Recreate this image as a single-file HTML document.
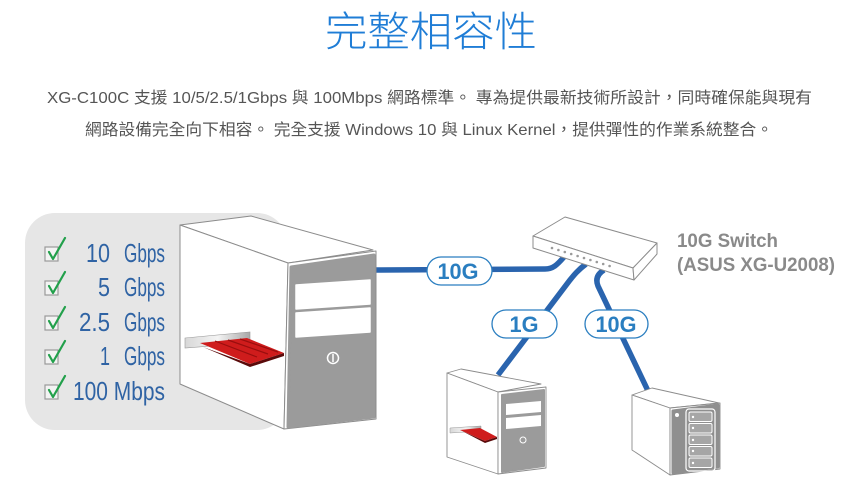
<!DOCTYPE html>
<html><head><meta charset="utf-8"><style>
html,body{margin:0;padding:0;background:#fff;}
svg{display:block;}
</style></head><body>
<svg width="852" height="497" viewBox="0 0 852 497" xmlns="http://www.w3.org/2000/svg">
<defs>
<linearGradient id="br" x1="0" y1="0" x2="1" y2="0">
<stop offset="0" stop-color="#d8d8d8"/><stop offset="0.5" stop-color="#f4f4f4"/><stop offset="1" stop-color="#a8a8a8"/>
</linearGradient>
</defs>
<rect width="852" height="497" fill="#fff"/>
<!-- Title -->
<text x="431" y="46" text-anchor="middle" textLength="212" lengthAdjust="spacingAndGlyphs" font-family="'Liberation Sans','Noto Sans CJK TC',sans-serif" font-size="41" font-weight="300" fill="#1f7dd6">完整相容性</text>
<!-- Paragraph -->
<g font-family="'Liberation Sans','Noto Sans CJK TC',sans-serif" font-size="16" fill="#555">
<text x="47" y="103" textLength="765" lengthAdjust="spacingAndGlyphs">XG-C100C 支援 10/5/2.5/1Gbps 與 100Mbps 網路標準。 專為提供最新技術所設計，同時確保能與現有</text>
<text x="85" y="135" textLength="688" lengthAdjust="spacingAndGlyphs">網路設備完全向下相容。 完全支援 Windows 10 與 Linux Kernel，提供彈性的作業系統整合。</text>
</g>
<!-- gray panel -->
<rect x="25" y="213" width="262" height="217" rx="30" fill="#e6e6e6"/>
<!-- checklist -->
<g font-family="'Liberation Sans Narrow','Liberation Sans',sans-serif" font-size="26" fill="#2f63a4">
<text x="110" y="262" text-anchor="end" textLength="24" lengthAdjust="spacingAndGlyphs">10</text>
<text x="124" y="262" textLength="41" lengthAdjust="spacingAndGlyphs">Gbps</text>
<text x="110" y="296" text-anchor="end" textLength="12" lengthAdjust="spacingAndGlyphs">5</text>
<text x="124" y="296" textLength="41" lengthAdjust="spacingAndGlyphs">Gbps</text>
<text x="110" y="331" text-anchor="end" textLength="31" lengthAdjust="spacingAndGlyphs">2.5</text>
<text x="124" y="331" textLength="41" lengthAdjust="spacingAndGlyphs">Gbps</text>
<text x="110" y="365" text-anchor="end" textLength="10" lengthAdjust="spacingAndGlyphs">1</text>
<text x="124" y="365" textLength="41" lengthAdjust="spacingAndGlyphs">Gbps</text>
<text x="73" y="400" textLength="92" lengthAdjust="spacingAndGlyphs">100 Mbps</text>
</g>
<g fill="#f3f3f3" stroke="#9a9a9a" stroke-width="1.2">
<rect x="45" y="247" width="13" height="14"/>
<rect x="45" y="281" width="13" height="14"/>
<rect x="45" y="316" width="13" height="14"/>
<rect x="45" y="350" width="13" height="14"/>
<rect x="45" y="385" width="13" height="14"/>
</g>
<g fill="none" stroke="#22a04b" stroke-width="2.2" stroke-linecap="round" stroke-linejoin="round">
<path d="M49,252 L53,259 L65,238"/>
<path d="M49,286 L53,293 L65,272"/>
<path d="M49,321 L53,328 L65,307"/>
<path d="M49,355 L53,362 L65,341"/>
<path d="M49,390 L53,397 L65,376"/>
</g>
<!-- cables -->
<g fill="none" stroke="#2a64ae" stroke-width="5.5">
<path d="M372,270 L545,269 C553,269 557,265 564,257"/>
<path d="M586,264 C578,270 574,275 570,280 L498,375"/>
<path d="M604,270 Q594,276 598,286 L649,393"/>
</g>
<!-- big tower -->
<g stroke="#8c8c8c" stroke-width="1" stroke-linejoin="round">
<path d="M180,225 L251,216 L373,250 L288,263 Z" fill="#fff"/>
<path d="M180,225 L288,263 L284,429 L180,384 Z" fill="#fff"/>
<path d="M288,263 L376,251 L376,419 L284,429 Z" fill="#fff"/>
</g>
<path d="M291,267 L374,255 L374,417 L288,427 Z" fill="#9b9b9b" stroke="#9b9b9b" stroke-width="3" stroke-linejoin="round"/>
<path d="M296,285 L370,280 L370,304 L296,309 Z" fill="#fff" stroke="#fff" stroke-width="1.5" stroke-linejoin="round"/>
<path d="M296,313 L370,308 L370,332 L296,337 Z" fill="#fff" stroke="#fff" stroke-width="1.5" stroke-linejoin="round"/>
<circle cx="333" cy="358" r="5.5" fill="none" stroke="#fff" stroke-width="1.5"/>
<line x1="333" y1="354" x2="333" y2="362" stroke="#fff" stroke-width="1.5"/>
<!-- big card -->
<path d="M185,338 L250,332 L250,343 L185,348 Z" fill="url(#br)" stroke="#999" stroke-width="0.6"/>
<path d="M200,343 L247,338 L284,353 L250,364 Z" fill="#cf1c1c"/>
<path d="M203,347 L250,364 L284,353 L284,356 L250,367 Z" fill="#5a0a0a"/>
<g stroke="#9a0e0e" stroke-width="1.2">
<line x1="215" y1="341" x2="257" y2="357"/>
<line x1="228" y1="340" x2="268" y2="354"/>
<line x1="240" y1="339" x2="278" y2="352"/>
</g>
<!-- small tower -->
<g stroke="#8c8c8c" stroke-width="0.9" stroke-linejoin="round">
<path d="M447,373 L461,369 L541,384 L498,392 Z" fill="#fff"/>
<path d="M447,373 L498,392 L498,474 L447,457 Z" fill="#fff"/>
<path d="M498,392 L546,387 L546,468 L498,474 Z" fill="#fff"/>
</g>
<path d="M502,395 L544,390 L544,466 L502,472 Z" fill="#9b9b9b" stroke="#9b9b9b" stroke-width="2" stroke-linejoin="round"/>
<path d="M506,404 L541,401 L541,412 L506,415 Z" fill="#fff"/>
<path d="M506,418 L541,415 L541,426 L506,429 Z" fill="#fff"/>
<circle cx="523" cy="440" r="3" fill="none" stroke="#fff" stroke-width="1"/>
<path d="M450,428 L481,426 L481,431 L450,433 Z" fill="url(#br)" stroke="#999" stroke-width="0.5"/>
<path d="M460,430 L480,428 L497,437 L485,441 Z" fill="#cf1c1c"/>
<path d="M462,431 L485,441 L497,437 L497,439 L485,443 Z" fill="#5a0a0a"/>
<!-- NAS -->
<g stroke="#8c8c8c" stroke-width="0.9" stroke-linejoin="round">
<path d="M632,395 L652,388 L719,403 L670,408 Z" fill="#fff"/>
<path d="M632,395 L670,408 L670,475 L632,450 Z" fill="#fff"/>
<path d="M670,408 L720,403 L720,469 L670,475 Z" fill="#fff"/>
</g>
<path d="M673,411 L718,405 L718,467 L673,473 Z" fill="#8f8f8f" stroke="#8f8f8f" stroke-width="3" stroke-linejoin="round"/>
<circle cx="677" cy="415" r="2" fill="#fff"/>
<rect x="686" y="409" width="29" height="62" rx="3" fill="none" stroke="#fff" stroke-width="1.2"/>
<g fill="#a6a6a6" stroke="#fff" stroke-width="1">
<rect x="689" y="412" width="23" height="9.5" rx="1.5"/>
<rect x="689" y="423.5" width="23" height="9.5" rx="1.5"/>
<rect x="689" y="435" width="23" height="9.5" rx="1.5"/>
<rect x="689" y="446.5" width="23" height="9.5" rx="1.5"/>
<rect x="689" y="458" width="23" height="9.5" rx="1.5"/>
</g>
<g fill="#fff">
<circle cx="693" cy="417" r="1.2"/><circle cx="693" cy="428" r="1.2"/><circle cx="693" cy="440" r="1.2"/><circle cx="693" cy="451" r="1.2"/><circle cx="693" cy="463" r="1.2"/>
</g>
<!-- switch -->
<g stroke="#8c8c8c" stroke-width="1" stroke-linejoin="round" fill="#fff">
<path d="M533,236 L565,217 L657,243 L633,268 Z"/>
<path d="M533,236 L633,268 L634,280 L533,248 Z"/>
<path d="M633,268 L657,243 L657,254 L634,280 Z"/>
</g>
<g fill="#9a9a9a">
<circle cx="552" cy="248" r="1.3"/><circle cx="558.4" cy="250" r="1.3"/><circle cx="564.8" cy="252" r="1.3"/><circle cx="571.2" cy="254" r="1.3"/><circle cx="577.6" cy="256" r="1.3"/><circle cx="584" cy="258" r="1.3"/><circle cx="590.4" cy="260" r="1.3"/><circle cx="596.8" cy="262" r="1.3"/><circle cx="603.2" cy="264" r="1.3"/><circle cx="609.6" cy="266" r="1.3"/>
</g>
<!-- pills -->
<g fill="#fff" stroke="#2a7ec0" stroke-width="1.3">
<rect x="427" y="257" width="65" height="28" rx="14"/>
<rect x="492" y="310" width="65" height="28" rx="14"/>
<rect x="585" y="310" width="63" height="28" rx="14"/>
</g>
<g font-family="'Liberation Sans',sans-serif" font-size="22" font-weight="bold" fill="#2a7ec0" text-anchor="middle">
<text x="458" y="279" textLength="41" lengthAdjust="spacingAndGlyphs">10G</text>
<text x="524" y="332" textLength="29" lengthAdjust="spacingAndGlyphs">1G</text>
<text x="616" y="332" textLength="41" lengthAdjust="spacingAndGlyphs">10G</text>
</g>
<!-- switch label -->
<g font-family="'Liberation Sans',sans-serif" font-size="19" font-weight="bold" fill="#8a8a8a">
<text x="677" y="247" textLength="101" lengthAdjust="spacingAndGlyphs">10G Switch</text>
<text x="677" y="271" textLength="158" lengthAdjust="spacingAndGlyphs">(ASUS XG-U2008)</text>
</g>
</svg>
</body></html>
